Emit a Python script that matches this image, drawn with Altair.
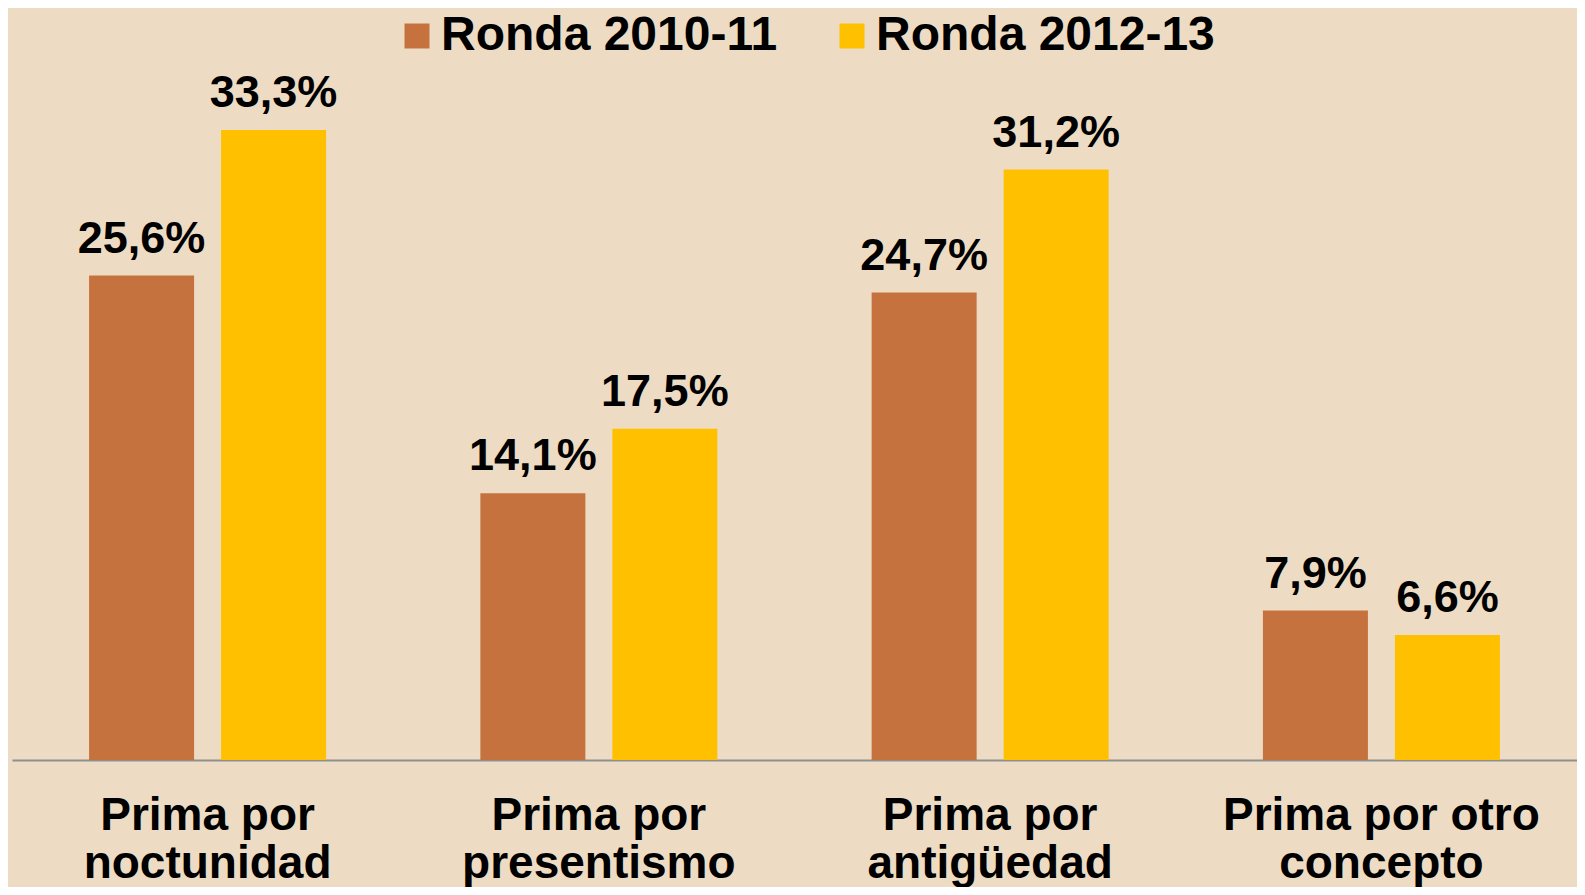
import altair as alt
import pandas as pd

categories = ["Prima por|noctunidad", "Prima por|presentismo", "Prima por|antigüedad", "Prima por otro|concepto"]
series = ["Ronda 2010-11", "Ronda 2012-13"]
values_2010 = [25.6, 14.1, 24.7, 7.9]
values_2012 = [33.3, 17.5, 31.2, 6.6]
colors = ["#C5723F", "#FFC000"]

rows = []
for c, a, b in zip(categories, values_2010, values_2012):
    rows.append({"cat": c, "serie": series[0], "val": a})
    rows.append({"cat": c, "serie": series[1], "val": b})
df = pd.DataFrame(rows)
df["label"] = df["val"].map(lambda v: f"{v:.1f}".replace(".", ",") + "%")

FONT = "Liberation Sans"

x_enc = alt.X("cat:N", sort=categories, title=None,
              scale=alt.Scale(paddingInner=0.3943, paddingOuter=0.197),
              axis=alt.Axis(labelExpr="split(datum.label, '|')", labelFont=FONT,
                            labelFontSize=46, labelFontWeight="bold", labelColor="#000000",
                            labelLineHeight=48, labelBaseline="top", labelPadding=33,
                            labelLimit=0, labelOverlap=False, labelAngle=0,
                            ticks=False, domainColor="#8F8F8F", domainWidth=2, grid=False))
xo_enc = alt.XOffset("serie:N", sort=series,
                     scale=alt.Scale(paddingInner=0.2045, paddingOuter=0))
y_enc = alt.Y("val:Q", title=None,
              scale=alt.Scale(domain=[0, 39.53], nice=False, zero=True),
              axis=None)

bars = alt.Chart(df).mark_bar().encode(
    x=x_enc, xOffset=xo_enc, y=y_enc,
    color=alt.Color("serie:N", sort=series,
                    scale=alt.Scale(domain=series, range=colors),
                    legend=alt.Legend(title=None, orient="none", direction="horizontal",
                                      legendX=381, legendY=0,
                                      symbolType="square", symbolSize=625,
                                      symbolStrokeWidth=0, labelFont=FONT,
                                      labelFontSize=48, labelFontWeight="bold",
                                      labelColor="#000000", labelOffset=0,
                                      columnPadding=50, labelLimit=0)),
)

text = alt.Chart(df).mark_text(font=FONT, fontSize=45, fontWeight="bold",
                               color="#000000", baseline="alphabetic", dy=-23).encode(
    x=alt.X("cat:N", sort=categories), xOffset=alt.XOffset("serie:N", sort=series),
    y=alt.Y("val:Q"), text="label:N")

chart = (bars + text).properties(
    width=1565, height=748,
    background="#EDDCC3",
    autosize=alt.AutoSizeParams(type="none"),
    padding={"left": 4, "top": 4, "right": 0, "bottom": 127},
).configure_view(stroke=None)

chart.save("out.html", embed_options={"renderer": "svg", "actions": False})
